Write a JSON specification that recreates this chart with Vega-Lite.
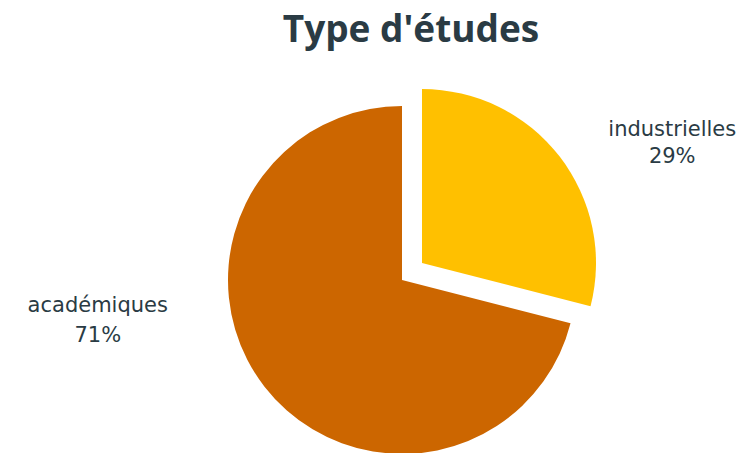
{
  "$schema": "https://vega.github.io/schema/vega-lite/v6.json",
  "autosize": "none",
  "width": 348,
  "height": 348,
  "padding": {"left": 228, "top": 106, "right": 160, "bottom": 0},
  "background": "white",
  "title": {
    "text": "Type d'études",
    "fontSize": 37,
    "font": "Open Sans",
    "fontWeight": "bold",
    "color": "#2A3B44",
    "anchor": "middle",
    "offset": 39,
    "dx": 9
  },
  "config": {"view": {"stroke": null}},
  "data": {
    "values": [
      {"type": "industrielles", "part": 0.29},
      {"type": "académiques", "part": 0.71}
    ]
  },
  "encoding": {
    "theta": {"field": "part", "type": "quantitative", "stack": true},
    "order": {"field": "type", "type": "ordinal", "sort": "descending"},
    "color": {
      "field": "type",
      "type": "nominal",
      "scale": {"domain": ["industrielles", "académiques"], "range": ["#FFC000", "#CC6600"]},
      "legend": null
    }
  },
  "layer": [
    {
      "mark": {
        "type": "arc",
        "outerRadius": 174,
        "xOffset": {"expr": "datum.type == 'industrielles' ? 20 : 0"},
        "yOffset": {"expr": "datum.type == 'industrielles' ? -17 : 0"}
      }
    },
    {
      "mark": {
        "type": "text",
        "radius": 280,
        "font": "DejaVu Sans",
        "fontSize": 21,
        "color": "#2A3B44",
        "dx": {"expr": "datum.type == 'industrielles' ? 49 : -83"},
        "dy": {"expr": "datum.type == 'industrielles' ? 22 : -146"}
      },
      "encoding": {"text": {"field": "type"}, "color": {"value": "#2A3B44"}}
    },
    {
      "mark": {
        "type": "text",
        "radius": 280,
        "font": "DejaVu Sans",
        "fontSize": 21,
        "color": "#2A3B44",
        "dx": {"expr": "datum.type == 'industrielles' ? 49 : -83"},
        "dy": {"expr": "datum.type == 'industrielles' ? 49 : -116"}
      },
      "encoding": {"text": {"field": "part", "format": ".0%"}, "color": {"value": "#2A3B44"}}
    }
  ]
}
